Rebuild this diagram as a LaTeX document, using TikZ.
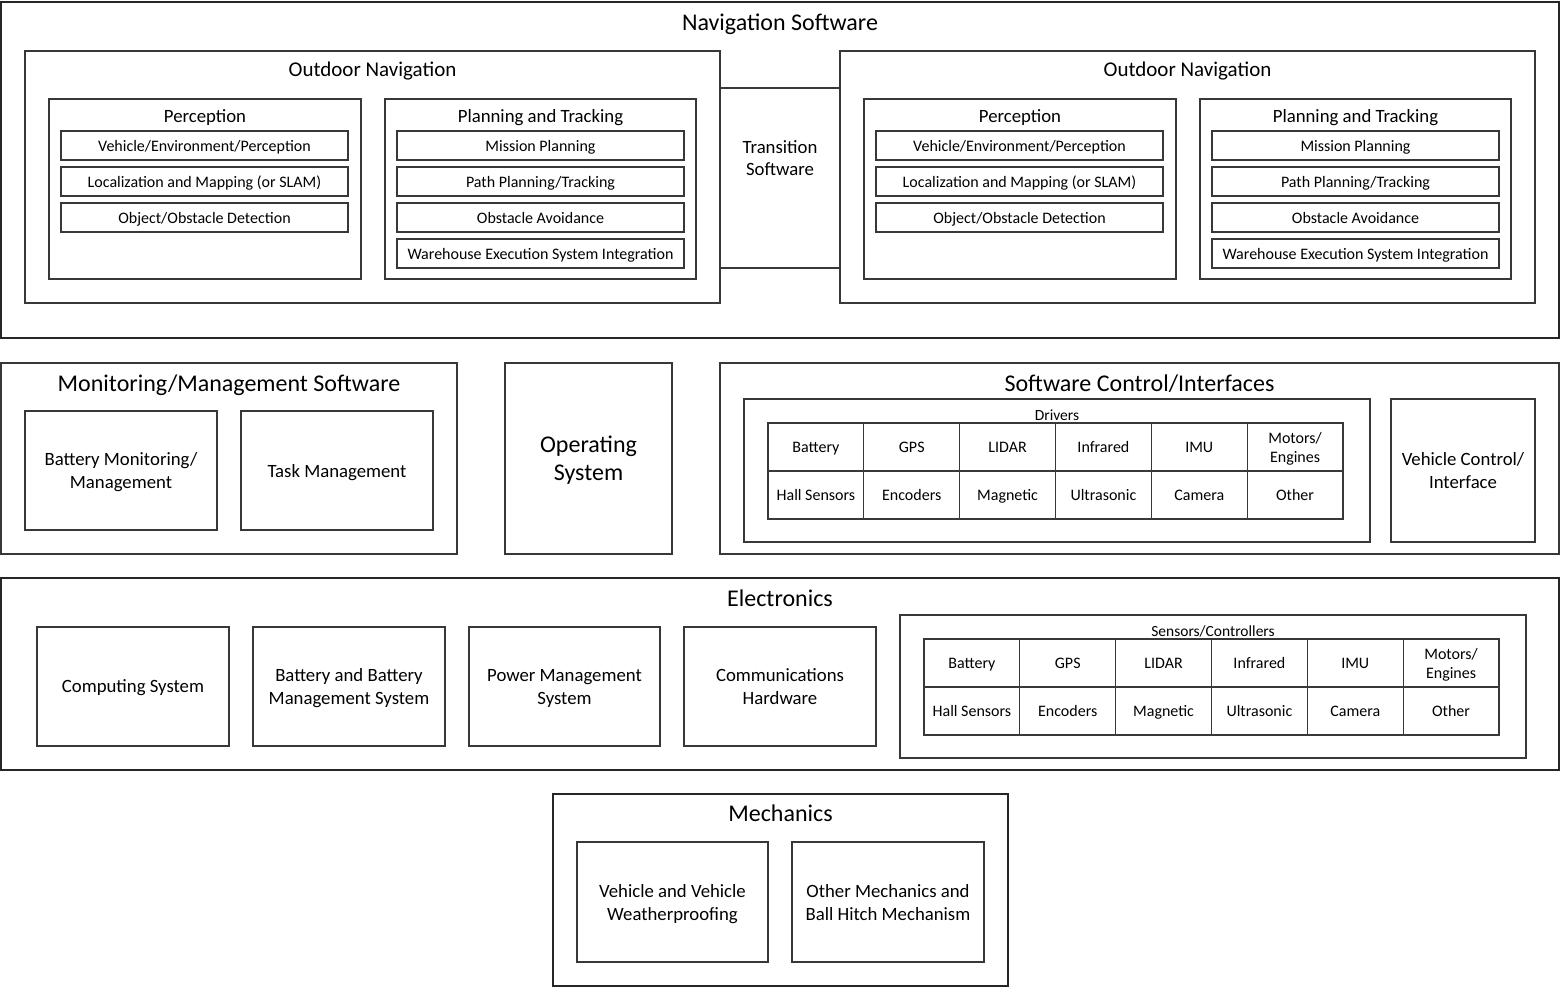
\documentclass[tikz,border=0pt]{standalone}
\usepackage{fontspec}
\setmainfont{Carlito}
\newcommand\bx[7][]{%
  \pgfmathsetmacro\bxw{#5-#3}\pgfmathsetmacro\bxh{#6-#4}%
  \node[box,#1,minimum width=\bxw pt,minimum height=\bxh pt,anchor=north west] (#2) at (#3,#4) {#7};}
\tikzset{
  box/.style={draw=black!78, line width=1.1pt, inner sep=1pt, outer sep=0pt, align=center,
    text depth=0pt, font=\fontsize{18.75}{23}\selectfont},
  outer/.style={draw=black!85},
  item/.style={font=\fontsize{16}{19}\selectfont},
  cellb/.style={font=\fontsize{16}{19}\selectfont, line width=1.2pt},
  big/.style={font=\fontsize{24}{28}\selectfont},
  ttl/.style={inner sep=0pt, outer sep=0pt, anchor=base, font=\fontsize{24}{28}\selectfont},
  ttlo/.style={ttl, font=\fontsize{21}{25}\selectfont},
  ttlh/.style={ttl, font=\fontsize{18.75}{23}\selectfont},
  ttls/.style={ttl, font=\fontsize{15.5}{18}\selectfont},
  txt/.style={inner sep=0pt, align=center, text depth=0pt, font=\fontsize{18.75}{22}\selectfont},
}
\begin{document}
\begin{tikzpicture}[x=1pt,y=-1pt]
\useasboundingbox (0,0) rectangle (1561,987);
% ---------------- Navigation Software
\bx[outer]{nav}{1}{2}{1559}{338}{}
\node[ttl] (navT) at ([yshift=-29pt]nav.north) {Navigation Software};
% left outdoor
\bx{lon}{25}{51}{720}{303}{}
\node[ttlo] (lonT) at ([yshift=-26pt]lon.north) {Outdoor Navigation};
\bx{lper}{49}{99}{361}{279}{}
\node[ttlh] (lperT) at ([yshift=-24pt]lper.north) {Perception};
\bx[item]{lp1}{61}{131}{348}{160}{Vehicle/Environment/Perception}
\bx[item]{lp2}{61}{167}{348}{196}{Localization and Mapping (or SLAM)}
\bx[item]{lp3}{61}{203}{348}{232}{Object/Obstacle Detection}
\bx{lpl}{385}{99}{696}{279}{}
\node[ttlh] (lplT) at ([yshift=-24pt]lpl.north) {Planning and Tracking};
\bx[item]{lq1}{397}{131}{684}{160}{Mission Planning}
\bx[item]{lq2}{397}{167}{684}{196}{Path Planning/Tracking}
\bx[item]{lq3}{397}{203}{684}{232}{Obstacle Avoidance}
\bx[item]{lq4}{397}{239}{684}{268}{Warehouse Execution System Integration}
% transition
\bx{trans}{720}{88}{840}{268}{}
\node[txt] (transT) at (780,158) {Transition\\Software};
% right outdoor
\bx{ron}{840}{51}{1535}{303}{}
\node[ttlo] (ronT) at ([yshift=-26pt]ron.north) {Outdoor Navigation};
\bx{rper}{864}{99}{1176}{279}{}
\node[ttlh] (rperT) at ([yshift=-24pt]rper.north) {Perception};
\bx[item]{rp1}{876}{131}{1163}{160}{Vehicle/Environment/Perception}
\bx[item]{rp2}{876}{167}{1163}{196}{Localization and Mapping (or SLAM)}
\bx[item]{rp3}{876}{203}{1163}{232}{Object/Obstacle Detection}
\bx{rpl}{1200}{99}{1511}{279}{}
\node[ttlh] (rplT) at ([yshift=-24pt]rpl.north) {Planning and Tracking};
\bx[item]{rq1}{1212}{131}{1499}{160}{Mission Planning}
\bx[item]{rq2}{1212}{167}{1499}{196}{Path Planning/Tracking}
\bx[item]{rq3}{1212}{203}{1499}{232}{Obstacle Avoidance}
\bx[item]{rq4}{1212}{239}{1499}{268}{Warehouse Execution System Integration}
% ---------------- Monitoring
\bx{mon}{1}{363}{457}{554}{}
\node[ttl] (monT) at ([yshift=-28pt]mon.north) {Monitoring/Management Software};
\bx{bm}{25}{411}{217}{530}{Battery Monitoring/\\Management}
\bx{tm}{241}{411}{433}{530}{Task Management}
% Operating system
\bx[big]{os}{505}{363}{672}{554}{Operating\\System}
% Software control
\bx{sc}{720}{363}{1559}{554}{}
\node[ttl] (scT) at ([yshift=-28pt]sc.north) {Software Control/Interfaces};
\bx{drv}{744}{399}{1370}{542}{}
\node[ttls] (drvT) at ([yshift=-21pt]drv.north) {Drivers};
\foreach \t [count=\i from 0] in {Battery,GPS,LIDAR,Infrared,IMU,{Motors/\\Engines}}{
  \pgfmathsetmacro\xa{768+\i*95.83}\pgfmathsetmacro\xb{768+(\i+1)*95.83}
  \bx[cellb]{da\i}{\xa}{423}{\xb}{471}{\t}}
\foreach \t [count=\i from 0] in {Hall Sensors,Encoders,Magnetic,Ultrasonic,Camera,Other}{
  \pgfmathsetmacro\xa{768+\i*95.83}\pgfmathsetmacro\xb{768+(\i+1)*95.83}
  \bx[cellb]{db\i}{\xa}{471}{\xb}{519}{\t}}
\bx{vc}{1391}{399}{1535}{542}{Vehicle Control/\\Interface}
% ---------------- Electronics
\bx[outer]{el}{1}{578}{1559}{770}{}
\node[ttl] (elT) at ([yshift=-28pt]el.north) {Electronics};
\bx{cs}{37}{627}{229}{746}{Computing System}
\bx{bb}{253}{627}{445}{746}{Battery and Battery\\Management System}
\bx{pm}{469}{627}{660}{746}{Power Management\\System}
\bx{ch}{684}{627}{876}{746}{Communications\\Hardware}
\bx{sen}{900}{615}{1526}{758}{}
\node[ttls] (senT) at ([yshift=-21pt]sen.north) {Sensors/Controllers};
\foreach \t [count=\i from 0] in {Battery,GPS,LIDAR,Infrared,IMU,{Motors/\\Engines}}{
  \pgfmathsetmacro\xa{924+\i*95.83}\pgfmathsetmacro\xb{924+(\i+1)*95.83}
  \bx[cellb]{sa\i}{\xa}{639}{\xb}{687}{\t}}
\foreach \t [count=\i from 0] in {Hall Sensors,Encoders,Magnetic,Ultrasonic,Camera,Other}{
  \pgfmathsetmacro\xa{924+\i*95.83}\pgfmathsetmacro\xb{924+(\i+1)*95.83}
  \bx[cellb]{sb\i}{\xa}{687}{\xb}{735}{\t}}
% ---------------- Mechanics
\bx[outer]{me}{553}{794}{1008}{986}{}
\node[ttl] (meT) at ([yshift=-27pt]me.north) {Mechanics};
\bx{vw}{577}{842}{768}{962}{Vehicle and Vehicle\\Weatherproofing}
\bx{om}{792}{842}{984}{962}{Other Mechanics and\\Ball Hitch Mechanism}
\end{tikzpicture}
\end{document}
